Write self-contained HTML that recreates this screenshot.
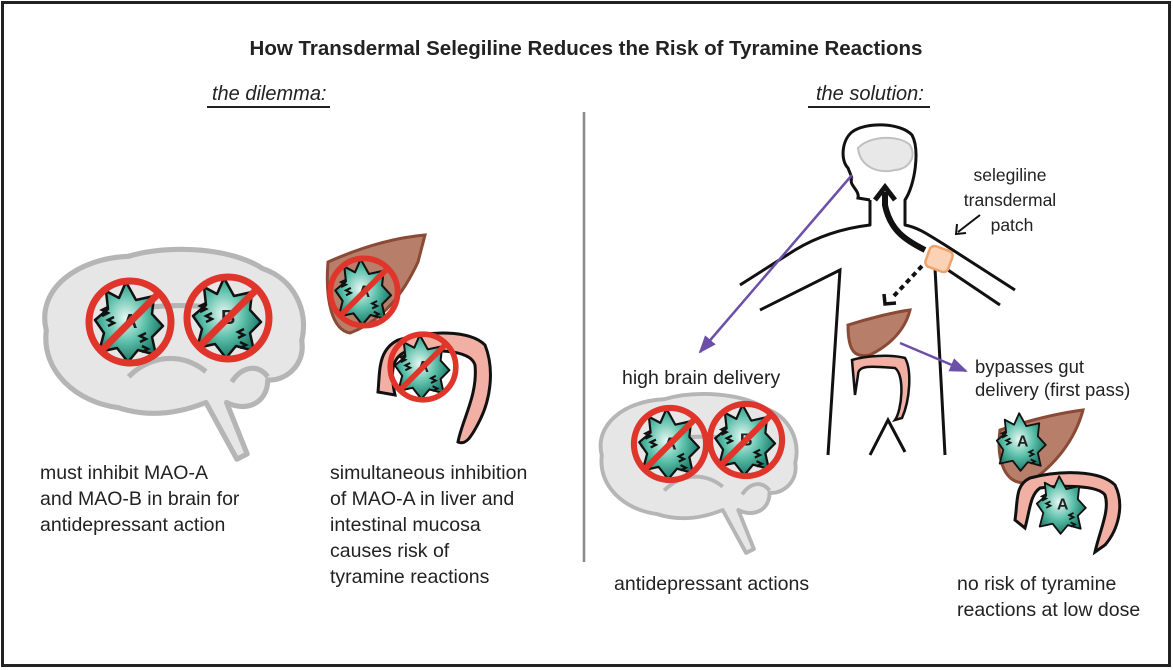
<!DOCTYPE html>
<html><head><meta charset="utf-8">
<style>
html,body{margin:0;padding:0;background:#fff;}
svg{display:block;}
text{font-family:"Liberation Sans",sans-serif;fill:#222;}
</style></head>
<body>
<svg width="1173" height="670" viewBox="0 0 1173 670" xmlns="http://www.w3.org/2000/svg">
<defs>
  <radialGradient id="eg" cx="0.45" cy="0.45" r="0.6">
    <stop offset="0" stop-color="#e6f7f3"/>
    <stop offset="0.5" stop-color="#5cc0aa"/>
    <stop offset="1" stop-color="#0f6e5d"/>
  </radialGradient>
  <g id="enz">
    <path d="M-4,-40 L6,-22 L24,-26 L22,-8 L33,4 L22,15 L26,33 L8,28 L-2,40 L-13,26 L-31,30 L-26,11 L-35,-2 L-22,-13 L-24,-31 L-11,-24 Z" fill="url(#eg)" stroke="#111" stroke-width="2.5" stroke-linejoin="round"/>
    <path d="M-28,-6 l6,-3 l-6,-3 l6,-3 M-22,4 l6,-3 l-6,-3 l6,-3 M10,20 l6,-3 l-6,-3 l6,-3 M12,30 l6,-3 l-6,-3" stroke="#111" stroke-width="2.5" fill="none"/>
  </g>
  <g id="no">
    <circle r="41" fill="none" stroke="#e0352b" stroke-width="7"/>
    <line x1="29" y1="-29" x2="-29" y2="29" stroke="#e0352b" stroke-width="7"/>
  </g>
  <g id="brain">
    <path d="M10,80 C0,40 40,10 90,8 C130,-4 190,0 220,20 C250,30 265,60 258,90 C262,115 240,130 225,128 C225,150 205,160 185,150 L205,200 L195,205 L165,150 C140,160 110,165 80,155 C40,150 5,120 10,80 Z" fill="#e6e6e6" stroke="#b5b5b5" stroke-width="5" stroke-linejoin="round"/>
    <path d="M60,70 C80,55 170,50 200,65 M90,125 C110,105 140,100 165,120 M190,130 C200,115 215,112 225,125" fill="none" stroke="#b5b5b5" stroke-width="5"/>
  </g>
  <marker id="pa2" markerWidth="18" markerHeight="18" refX="16" refY="9" orient="auto" markerUnits="userSpaceOnUse" viewBox="0 0 18 18">
    <path d="M0,2 L18,9 L0,16 Z" fill="#6b4fa8"/>
  </marker>
</defs>

<rect x="2.5" y="2.5" width="1167" height="663" fill="#fff" stroke="#222" stroke-width="3"/>

<text x="586" y="55" font-size="20.5" font-weight="bold" text-anchor="middle">How Transdermal Selegiline Reduces the Risk of Tyramine Reactions</text>
<text x="212" y="100" font-size="20" font-style="italic">the dilemma:</text>
<line x1="207" y1="107" x2="330" y2="107" stroke="#222" stroke-width="2"/>
<text x="816" y="100" font-size="20" font-style="italic">the solution:</text>
<line x1="808" y1="107" x2="930" y2="107" stroke="#222" stroke-width="2"/>

<line x1="584" y1="112" x2="584" y2="562" stroke="#888" stroke-width="2.5"/>

<!-- left brain -->
<g transform="translate(36,248) scale(1.03)"><use href="#brain"/></g>
<g transform="translate(130,322)"><use href="#enz"/><text x="-7" y="6" font-size="20" font-weight="bold">A</text><use href="#no"/></g>
<g transform="translate(228,318)"><use href="#enz"/><text x="-7" y="6" font-size="20" font-weight="bold">B</text><use href="#no"/></g>

<!-- left liver -->
<path d="M328,262 C355,250 390,238 425,235 L418,262 C405,290 385,320 350,333 C332,330 325,300 328,262 Z" fill="#b77e6a" stroke="#8a4a35" stroke-width="3"/>
<g transform="translate(364,292) scale(0.82)"><use href="#enz"/><text x="-7" y="6" font-size="20" font-weight="bold">A</text><use href="#no"/></g>
<!-- left intestine -->
<path d="M378,392 C380,370 378,350 398,340 C430,330 470,330 485,345 C495,370 490,400 480,420 C470,440 465,445 458,442 C462,420 478,395 475,365 C470,348 430,350 405,352 C392,358 390,372 395,395 Z" fill="#f2b0a4" stroke="#111" stroke-width="3"/>
<g transform="translate(423,367) scale(0.8)"><use href="#enz"/><text x="-7" y="6" font-size="20" font-weight="bold">A</text><use href="#no"/></g>

<text font-size="19.5">
<tspan x="40" y="479">must inhibit MAO-A</tspan>
<tspan x="40" y="505">and MAO-B in brain for</tspan>
<tspan x="40" y="531">antidepressant action</tspan>
</text>
<text font-size="19.5">
<tspan x="330" y="479">simultaneous inhibition</tspan>
<tspan x="330" y="505">of MAO-A in liver and</tspan>
<tspan x="330" y="531">intestinal mucosa</tspan>
<tspan x="330" y="557">causes risk of</tspan>
<tspan x="330" y="583">tyramine reactions</tspan>
</text>

<!-- body -->
<path d="M852,178 L848,168 C840,160 842,140 852,132 C865,122 900,122 912,135 C920,150 915,185 905,200 L905,225 C920,228 930,236 945,245 L1015,290 M870,200 L870,225 C845,228 820,235 795,250 L740,285" fill="none" stroke="#111" stroke-width="3" stroke-linejoin="round"/>
<path d="M852,178 C848,185 860,190 858,198 L870,200" fill="none" stroke="#111" stroke-width="3"/>
<path d="M760,310 L840,270 L828,455 M935,268 L945,455 M945,268 L1000,305" fill="none" stroke="#111" stroke-width="3"/>
<path d="M870,455 L888,420 L905,452" fill="none" stroke="#111" stroke-width="3"/>
<path d="M858,148 C870,135 900,135 910,145 C918,160 905,170 895,170 C880,174 860,168 858,148 Z" fill="#e8e8e8" stroke="#c0c0c0" stroke-width="2"/>
<path d="M925,250 C905,240 890,230 885,205 L885,192" fill="none" stroke="#111" stroke-width="6"/>
<path d="M875,200 L885,187 L895,200" fill="none" stroke="#111" stroke-width="5"/>
<rect x="927" y="248" width="24" height="22" rx="5" transform="rotate(20 939 259)" fill="#fbd2b5" stroke="#f0a26a" stroke-width="2.5"/>
<line x1="922" y1="266" x2="892" y2="298" stroke="#111" stroke-width="4" stroke-dasharray="5,4"/>
<path d="M884,294 L885,304 L896,303" fill="none" stroke="#111" stroke-width="3.5"/>
<path d="M848,325 C870,318 895,312 910,310 C905,330 890,345 870,355 C855,358 848,352 848,325 Z" fill="#b77e6a" stroke="#8a4a35" stroke-width="3"/>
<path d="M852,360 L855,395 L858,375 C858,365 870,366 895,368 C905,375 902,410 895,420 L902,418 C910,400 912,370 905,358 C890,354 865,356 852,360 Z" fill="#f2b0a4" stroke="#111" stroke-width="2.5"/>
<line x1="852" y1="175" x2="700" y2="352" stroke="#6b4fa8" stroke-width="2.5" marker-end="url(#pa2)"/>
<line x1="900" y1="343" x2="966" y2="371" stroke="#6b4fa8" stroke-width="2.5" marker-end="url(#pa2)"/>
<text font-size="17.5" text-anchor="middle"><tspan x="1010" y="181">selegiline</tspan><tspan x="1010" y="206">transdermal</tspan><tspan x="1012" y="231">patch</tspan></text>
<line x1="980" y1="215" x2="958" y2="232" stroke="#111" stroke-width="2"/>
<path d="M957,224 L956,234 L966,233" fill="none" stroke="#111" stroke-width="2"/>

<text x="622" y="384" font-size="19.5">high brain delivery</text>
<text font-size="18.5"><tspan x="975" y="373">bypasses gut</tspan><tspan x="975" y="396">delivery (first pass)</tspan></text>

<!-- right brain -->
<g transform="translate(594,393) scale(0.78)"><use href="#brain"/></g>
<g transform="translate(670,444) scale(0.88)"><use href="#enz"/><text x="-7" y="6" font-size="20" font-weight="bold">A</text><use href="#no"/></g>
<g transform="translate(746,440) scale(0.88)"><use href="#enz"/><text x="-7" y="6" font-size="20" font-weight="bold">B</text><use href="#no"/></g>

<!-- right liver -->
<path d="M1000,430 C1030,420 1060,413 1083,410 C1075,440 1055,465 1030,482 C1005,488 996,460 1000,430 Z" fill="#b77e6a" stroke="#8a4a35" stroke-width="3"/>
<g transform="translate(1022,442) scale(0.72)"><use href="#enz"/><text x="-7" y="6" font-size="22" font-weight="bold">A</text></g>
<path d="M1015,520 C1018,500 1015,485 1030,478 C1060,470 1100,470 1115,485 C1125,505 1118,530 1105,545 L1095,552 C1100,530 1110,510 1105,495 C1098,485 1060,485 1040,488 C1030,495 1030,510 1025,528 Z" fill="#f2b0a4" stroke="#111" stroke-width="3"/>
<g transform="translate(1062,505) scale(0.72)"><use href="#enz"/><text x="-7" y="6" font-size="22" font-weight="bold">A</text></g>

<text x="614" y="590" font-size="19.5">antidepressant actions</text>
<text font-size="19.5"><tspan x="957" y="590">no risk of tyramine</tspan><tspan x="957" y="616">reactions at low dose</tspan></text>
</svg>
</body></html>
